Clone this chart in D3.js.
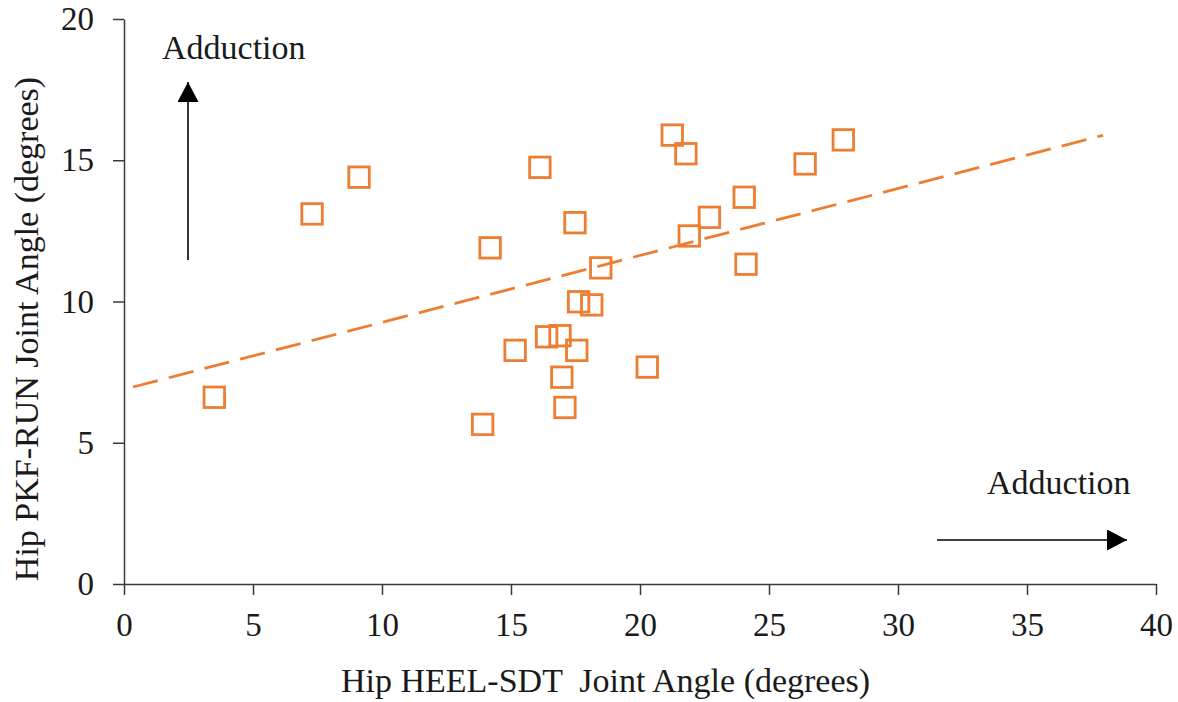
<!DOCTYPE html>
<html>
<head>
<meta charset="utf-8">
<script src="https://cdn.jsdelivr.net/npm/d3@7/dist/d3.min.js"></script>
<style>
  html, body { margin: 0; padding: 0; background: #fff; }
  svg { display: block; }
  text { font-family: "Liberation Serif", "Times New Roman", serif; fill: #1a1a1a; }
</style>
</head>
<body>
<svg id="chart" width="1178" height="702"></svg>
<script>
// Hip joint angles per participant (degrees)
const heelSdt = [3.50, 7.29, 9.11, 13.90, 14.19, 15.16, 16.12, 16.38, 16.90, 16.97,
                 17.09, 17.48, 17.55, 17.62, 18.13, 18.48, 20.28, 21.25, 21.78, 21.91,
                 22.69, 24.04, 24.11, 26.40, 27.88];
const pkfRun  = [6.61, 13.10, 14.40, 5.65, 11.90, 8.27, 14.75, 8.75, 8.79, 7.32,
                 6.25, 12.79, 8.27, 9.99, 9.88, 11.19, 7.68, 15.89, 15.23, 12.32,
                 12.98, 13.69, 11.32, 14.87, 15.72];

// Linear trend line
const trendIntercept = 6.89;
const trendSlope = 0.237;
const trendRange = [0.35, 37.95];

// Axis ticks
const xTicks = [0, 5, 10, 15, 20, 25, 30, 35, 40];
const yTicks = [0, 5, 10, 15, 20];

const xTitle = "Hip HEEL-SDT  Joint Angle (degrees)";
const yTitle = "Hip PKF-RUN Joint Angle (degrees)";
const arrowLabel = "Adduction";

const orange = "#ED7D31";
const axisColor = "#3a3a3a";

const svg = d3.select("#chart");

const x = d3.scaleLinear().domain([0, 40]).range([124, 1156]);
const y = d3.scaleLinear().domain([0, 20]).range([584, 19]);

// Axes
const gx = svg.append("g")
  .attr("transform", `translate(0,${y(0)})`)
  .call(d3.axisBottom(x).tickValues(xTicks).tickSize(11).tickSizeOuter(0).tickPadding(18));
const gy = svg.append("g")
  .attr("transform", `translate(${x(0)},0)`)
  .call(d3.axisLeft(y).tickValues(yTicks).tickSize(11).tickSizeOuter(0).tickPadding(19));

[gx, gy].forEach(g => {
  g.select(".domain").attr("stroke", axisColor).attr("stroke-width", 1.5);
  g.selectAll(".tick line").attr("stroke", axisColor).attr("stroke-width", 1.5);
  g.selectAll(".tick text")
    .attr("font-family", "Liberation Serif, Times New Roman, serif")
    .attr("font-size", 33)
    .attr("fill", "#1a1a1a");
});

// Trend line
const trendData = trendRange.map(v => [v, trendIntercept + trendSlope * v]);
svg.append("path")
  .datum(trendData)
  .attr("d", d3.line().x(d => x(d[0])).y(d => y(d[1])))
  .attr("fill", "none")
  .attr("stroke", orange)
  .attr("stroke-width", 2.8)
  .attr("stroke-dasharray", "25.5 11.4");

// Markers: hollow squares
const side = 20.5;
svg.append("g")
  .selectAll("rect")
  .data(heelSdt.map((v, i) => [v, pkfRun[i]]))
  .join("rect")
  .attr("x", d => x(d[0]) - side / 2)
  .attr("y", d => y(d[1]) - side / 2)
  .attr("width", side)
  .attr("height", side)
  .attr("fill", "none")
  .attr("stroke", orange)
  .attr("stroke-width", 2.8);

// Axis titles
svg.append("text")
  .attr("x", 341)
  .attr("y", 692)
  .attr("font-size", 34)
  .style("white-space", "pre")
  .attr("xml:space", "preserve")
  .text(xTitle);

svg.append("text")
  .attr("transform", "translate(38,329) rotate(-90)")
  .attr("text-anchor", "middle")
  .attr("font-size", 34)
  .text(yTitle);

// Direction arrows
const defs = svg.append("defs");
defs.append("marker")
  .attr("id", "head")
  .attr("viewBox", "0 0 20 21")
  .attr("refX", 20).attr("refY", 10.5)
  .attr("markerWidth", 20).attr("markerHeight", 21)
  .attr("markerUnits", "userSpaceOnUse")
  .attr("orient", "auto")
  .append("path")
  .attr("d", "M0,0 L20,10.5 L0,21 Z")
  .attr("fill", "#000");

svg.append("line")
  .attr("x1", 188).attr("y1", 260)
  .attr("x2", 188).attr("y2", 82)
  .attr("stroke", "#000").attr("stroke-width", 1.6)
  .attr("marker-end", "url(#head)");
svg.append("text")
  .attr("x", 162).attr("y", 59)
  .attr("font-size", 34)
  .text(arrowLabel);

svg.append("line")
  .attr("x1", 937).attr("y1", 540)
  .attr("x2", 1127).attr("y2", 540)
  .attr("stroke", "#000").attr("stroke-width", 1.6)
  .attr("marker-end", "url(#head)");
svg.append("text")
  .attr("x", 987).attr("y", 494)
  .attr("font-size", 34)
  .text(arrowLabel);
</script>
</body>
</html>
